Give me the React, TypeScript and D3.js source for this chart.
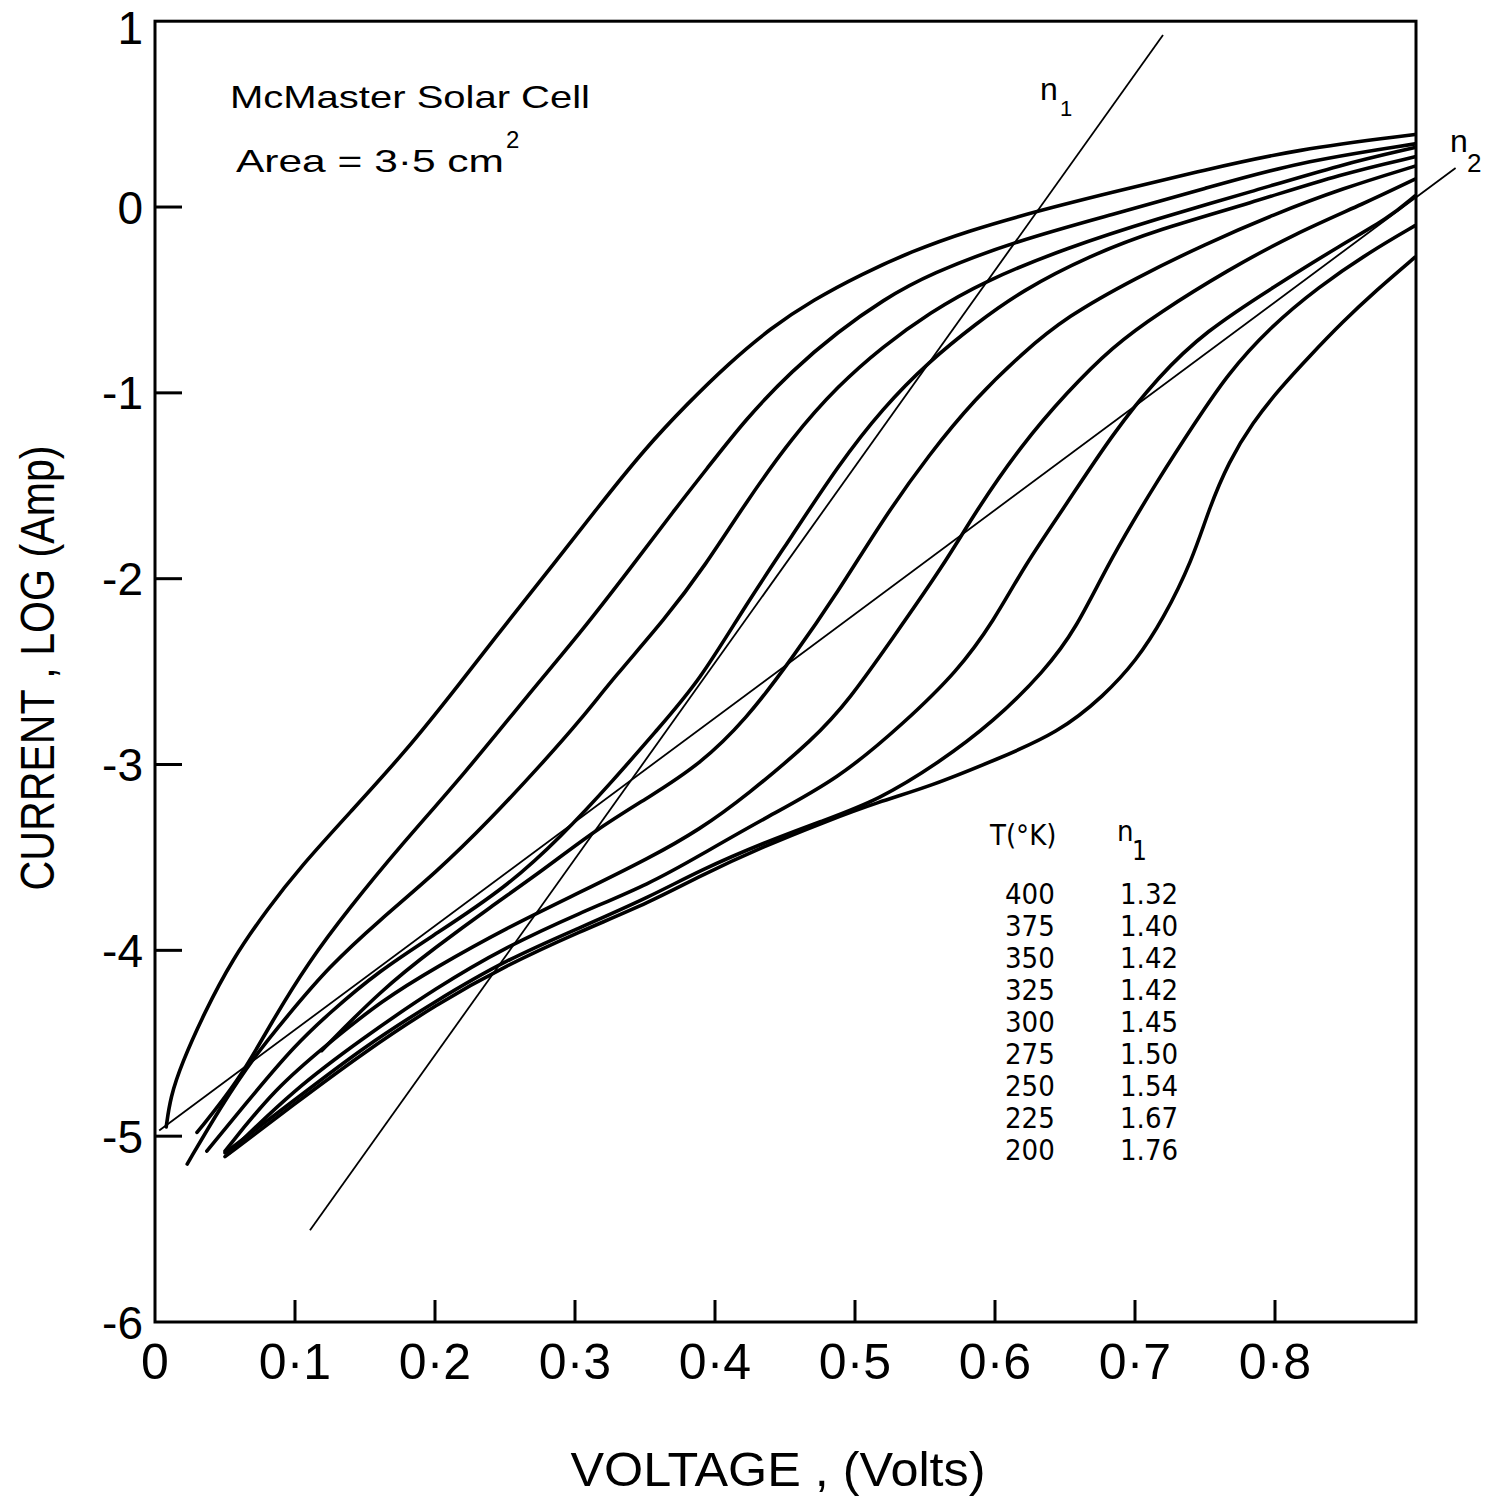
import React from "react";
import * as d3 from "d3";

// ---- data ----
const X_TICKS = [0, 0.1, 0.2, 0.3, 0.4, 0.5, 0.6, 0.7, 0.8];
const X_LABELS = ["0", "0·1", "0·2", "0·3", "0·4", "0·5", "0·6", "0·7", "0·8"];
const Y_TICKS = [1, 0, -1, -2, -3, -4, -5, -6];
const Y_LABELS = ["1", "0", "-1", "-2", "-3", "-4", "-5", "-6"];

const TEMPS = ["400", "375", "350", "325", "300", "275", "250", "225", "200"];
const N1_VALUES = ["1.32", "1.40", "1.42", "1.42", "1.45", "1.50", "1.54", "1.67", "1.76"];

const c400: [number, number][] = [
  [0.008, -4.95], [0.011, -4.79], [0.019, -4.61], [0.035, -4.34], [0.055, -4.05], [0.081, -3.77],
  [0.104, -3.55], [0.139, -3.26], [0.179, -2.93], [0.216, -2.58], [0.251, -2.24], [0.287, -1.9],
  [0.318, -1.6], [0.35, -1.3], [0.38, -1.06], [0.41, -0.84], [0.44, -0.65], [0.47, -0.5],
  [0.505, -0.36], [0.54, -0.24], [0.58, -0.13], [0.631, -0.02], [0.684, 0.08], [0.75, 0.2],
  [0.815, 0.31], [0.9, 0.39],
];
const c375: [number, number][] = [
  [0.03, -4.98], [0.06, -4.7], [0.083, -4.39], [0.109, -4.07], [0.139, -3.77], [0.175, -3.44],
  [0.221, -3.05], [0.267, -2.62], [0.303, -2.3], [0.341, -1.93], [0.371, -1.63], [0.393, -1.42],
  [0.422, -1.14], [0.455, -0.88], [0.488, -0.67], [0.52, -0.5], [0.553, -0.36], [0.616, -0.18],
  [0.684, -0.04], [0.75, 0.1], [0.815, 0.24], [0.9, 0.34],
];
const c350: [number, number][] = [
  [0.023, -5.15], [0.047, -4.84], [0.071, -4.57], [0.096, -4.34], [0.124, -4.09], [0.16, -3.84],
  [0.201, -3.58], [0.239, -3.3], [0.277, -2.99], [0.304, -2.76], [0.328, -2.53], [0.364, -2.22],
  [0.393, -1.93], [0.422, -1.59], [0.455, -1.24], [0.488, -0.96], [0.52, -0.75], [0.553, -0.57],
  [0.592, -0.4], [0.651, -0.22], [0.717, -0.06], [0.782, 0.08], [0.848, 0.23], [0.9, 0.32],
];
const c325: [number, number][] = [
  [0.037, -5.08], [0.073, -4.75], [0.099, -4.52], [0.124, -4.34], [0.16, -4.11], [0.201, -3.91],
  [0.251, -3.66], [0.29, -3.39], [0.328, -3.08], [0.359, -2.81], [0.389, -2.55], [0.422, -2.14],
  [0.455, -1.77], [0.488, -1.39], [0.52, -1.08], [0.553, -0.83], [0.586, -0.63], [0.619, -0.45],
  [0.668, -0.26], [0.717, -0.12], [0.782, 0.02], [0.848, 0.18], [0.9, 0.27],
];
const c300: [number, number][] = [
  [0.119, -4.54], [0.162, -4.21], [0.201, -3.98], [0.239, -3.77], [0.277, -3.57], [0.315, -3.35],
  [0.354, -3.17], [0.389, -3.0], [0.422, -2.76], [0.455, -2.43], [0.488, -2.07], [0.52, -1.68],
  [0.553, -1.33], [0.586, -1.03], [0.619, -0.79], [0.651, -0.59], [0.701, -0.38], [0.75, -0.2],
  [0.799, -0.04], [0.848, 0.1], [0.9, 0.22],
];
const c275: [number, number][] = [
  [0.05, -5.08], [0.086, -4.74], [0.124, -4.5], [0.162, -4.27], [0.201, -4.09], [0.251, -3.88],
  [0.303, -3.69], [0.354, -3.5], [0.389, -3.35], [0.422, -3.17], [0.471, -2.86], [0.496, -2.65],
  [0.526, -2.33], [0.564, -1.92], [0.586, -1.64], [0.619, -1.28], [0.651, -1.0], [0.684, -0.75],
  [0.717, -0.57], [0.766, -0.34], [0.815, -0.14], [0.864, 0.02], [0.9, 0.15],
];
const c250: [number, number][] = [
  [0.053, -5.09], [0.099, -4.75], [0.149, -4.47], [0.201, -4.2], [0.251, -3.98], [0.303, -3.8],
  [0.354, -3.64], [0.389, -3.49], [0.435, -3.29], [0.488, -3.08], [0.536, -2.77], [0.573, -2.5],
  [0.599, -2.23], [0.621, -1.93], [0.651, -1.6], [0.684, -1.22], [0.717, -0.91], [0.75, -0.67],
  [0.799, -0.43], [0.848, -0.2], [0.881, -0.06], [0.9, 0.06],
];
const c225: [number, number][] = [
  [0.05, -5.09], [0.099, -4.81], [0.149, -4.52], [0.201, -4.27], [0.251, -4.05], [0.303, -3.88],
  [0.354, -3.71], [0.389, -3.57], [0.435, -3.42], [0.478, -3.3], [0.517, -3.19], [0.56, -2.99],
  [0.599, -2.77], [0.635, -2.5], [0.658, -2.27], [0.682, -1.9], [0.717, -1.46], [0.743, -1.16],
  [0.766, -0.9], [0.796, -0.65], [0.831, -0.43], [0.868, -0.24], [0.9, -0.1],
];
const c200: [number, number][] = [
  [0.05, -5.11], [0.099, -4.83], [0.149, -4.55], [0.201, -4.29], [0.251, -4.08], [0.303, -3.9],
  [0.354, -3.74], [0.389, -3.6], [0.435, -3.44], [0.478, -3.31], [0.517, -3.2], [0.553, -3.12],
  [0.602, -2.97], [0.645, -2.83], [0.678, -2.63], [0.701, -2.44], [0.72, -2.22], [0.741, -1.9],
  [0.753, -1.62], [0.767, -1.37], [0.784, -1.16], [0.803, -0.98], [0.825, -0.8], [0.848, -0.62],
  [0.872, -0.45], [0.9, -0.27],
];
const CURVES = [c400, c375, c350, c325, c300, c275, c250, c225, c200];

const N1_LINE: [number, number][] = [[0.1107, -5.506], [0.72, 0.926]];
const N2_LINE: [number, number][] = [[0.003, -4.97], [0.929, 0.21]];

// ---- layout ----
const W = 1487;
const H = 1498;
const LEFT = 155;
const RIGHT = 1416;
const TOP = 21.2;
const BOTTOM = 1322;

export default function App() {
  const x = d3.scaleLinear().domain([0, 0.9]).range([LEFT, 1415]);
  const y = d3.scaleLinear().domain([-6, 1]).range([BOTTOM, TOP]);
  const line = d3
    .line<[number, number]>()
    .x((d) => x(d[0]))
    .y((d) => y(d[1]))
    .curve(d3.curveBasis);
  const straight = d3
    .line<[number, number]>()
    .x((d) => x(d[0]))
    .y((d) => y(d[1]));

  const sans = "'Liberation Sans', Arial, sans-serif";
  const narrow = "'Liberation Sans Narrow', 'DejaVu Sans Condensed', sans-serif";

  return (
    <svg
      width={W}
      height={H}
      style={{ position: "absolute", left: 0, top: 0, background: "#fff" }}
    >
      <rect x={0} y={0} width={W} height={H} fill="#fff" />
      {/* frame */}
      <rect
        x={LEFT}
        y={TOP}
        width={RIGHT - LEFT}
        height={BOTTOM - TOP}
        fill="none"
        stroke="#000"
        strokeWidth={3}
      />
      {/* y ticks */}
      {Y_TICKS.map((t, i) => (
        <g key={"yt" + i}>
          {t > -6 && t < 1 && (
            <line x1={LEFT} x2={LEFT + 27} y1={y(t)} y2={y(t)} stroke="#000" strokeWidth={3} />
          )}
          <text
            x={143}
            y={t === 1 ? y(t) + 6 : y(t)}
            dy="0.36em"
            textAnchor="end"
            fontFamily={sans}
            fontSize={46}
            fill="#000"
          >
            {Y_LABELS[i]}
          </text>
        </g>
      ))}
      {/* x ticks */}
      {X_TICKS.map((t, i) => (
        <g key={"xt" + i}>
          {t > 0 && (
            <line x1={x(t)} x2={x(t)} y1={BOTTOM} y2={BOTTOM - 22} stroke="#000" strokeWidth={3} />
          )}
          <text
            x={x(t)}
            y={1379}
            textAnchor="middle"
            fontFamily={sans}
            fontSize={50}
            fill="#000"
          >
            {X_LABELS[i]}
          </text>
        </g>
      ))}
      {/* curves */}
      {CURVES.map((c, i) => (
        <path
          key={"c" + i}
          d={line(c) || ""}
          fill="none"
          stroke="#000"
          strokeWidth={3.6}
          strokeLinecap="round"
          strokeLinejoin="round"
        />
      ))}
      {/* n1, n2 reference lines */}
      <path d={straight(N1_LINE) || ""} fill="none" stroke="#000" strokeWidth={1.8} />
      <path d={straight(N2_LINE) || ""} fill="none" stroke="#000" strokeWidth={1.8} />

      {/* annotations */}
      <text x={230} y={108} fontFamily={sans} fontSize={32} textLength={360} lengthAdjust="spacingAndGlyphs">
        McMaster  Solar Cell
      </text>
      <text x={236} y={172} fontFamily={sans} fontSize={32} textLength={268} lengthAdjust="spacingAndGlyphs">
        Area  =  3·5  cm
      </text>
      <text x={506} y={148} fontFamily={sans} fontSize={24}>
        2
      </text>
      <text x={1040} y={100} fontFamily={sans} fontSize={32}>
        n
      </text>
      <text x={1060} y={116} fontFamily={sans} fontSize={22}>
        1
      </text>
      <text x={1450} y={152} fontFamily={sans} fontSize={32}>
        n
      </text>
      <text x={1467} y={172} fontFamily={sans} fontSize={26}>
        2
      </text>

      {/* table */}
      <text x={990} y={845} fontFamily={narrow} fontSize={29}>
        T(°K)
      </text>
      <text x={1117} y={841} fontFamily={narrow} fontSize={29}>
        n
      </text>
      <text x={1132} y={860} fontFamily={narrow} fontSize={26}>
        1
      </text>
      {TEMPS.map((t, i) => (
        <g key={"row" + i}>
          <text x={1005} y={904 + i * 32} fontFamily={narrow} fontSize={29}>
            {t}
          </text>
          <text x={1120} y={904 + i * 32} fontFamily={narrow} fontSize={29}>
            {N1_VALUES[i]}
          </text>
        </g>
      ))}

      {/* axis titles */}
      <text
        x={778}
        y={1486}
        textAnchor="middle"
        fontFamily={sans}
        fontSize={48}
        textLength={415}
        lengthAdjust="spacingAndGlyphs"
      >
        VOLTAGE , (Volts)
      </text>
      <text
        transform="translate(54,668) rotate(-90)"
        textAnchor="middle"
        fontFamily={sans}
        fontSize={48}
        textLength={445}
        lengthAdjust="spacingAndGlyphs"
      >
        CURRENT , LOG (Amp)
      </text>
    </svg>
  );
}
